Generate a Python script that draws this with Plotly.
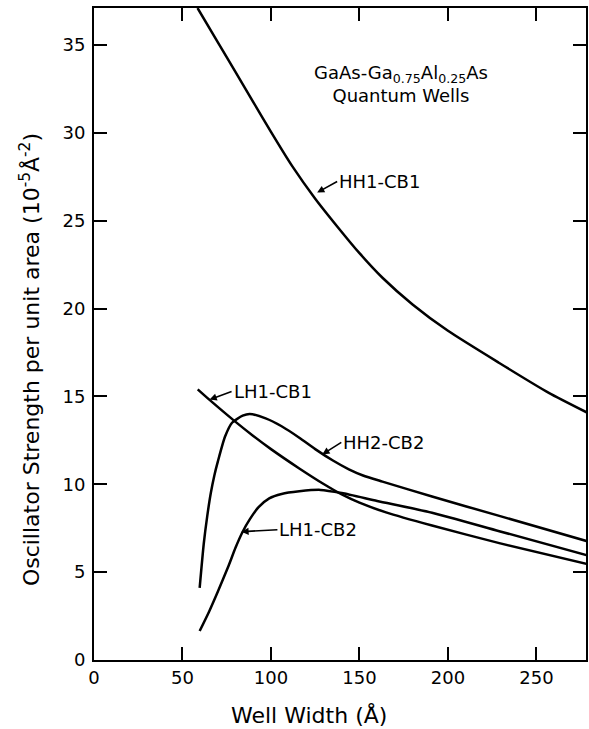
import plotly.graph_objects as go

# ---- data ----
hh1_x = [58.5, 70, 80, 90, 100, 112, 125, 138, 150, 163, 180, 200, 229, 257, 279]
hh1_y = [37.1, 35.15, 33.45, 31.75, 30.05, 28.1, 26.25, 24.6, 23.15, 21.75, 20.23, 18.73, 16.9, 15.2, 14.06]

lh1cb1_x = [58.6, 65.3, 80, 90, 100, 116, 130, 140, 150, 165, 191, 229, 279]
lh1cb1_y = [15.4, 14.8, 13.55, 12.75, 12.0, 10.9, 10.0, 9.42, 8.95, 8.4, 7.65, 6.65, 5.45]

hh2_x = [59.7, 62, 64, 66, 68, 70, 74, 78, 84, 88, 97, 106, 116, 125, 135, 144, 152, 163, 191, 229, 279]
hh2_y = [4.1, 6.6, 8.2, 9.5, 10.5, 11.3, 12.7, 13.5, 13.9, 14.0, 13.75, 13.3, 12.65, 12.0, 11.35, 10.85, 10.5, 10.15, 9.3, 8.2, 6.75]

lh1cb2_x = [59.7, 65, 70, 76, 80, 84, 88, 93, 99, 106, 116, 128, 140, 160, 191, 229, 279]
lh1cb2_y = [1.65, 2.75, 3.9, 5.35, 6.4, 7.3, 8.0, 8.7, 9.2, 9.45, 9.6, 9.68, 9.5, 9.05, 8.38, 7.33, 5.95]

x_ticks = [0, 50, 100, 150, 200, 250]
y_ticks = [0, 5, 10, 15, 20, 25, 30, 35]

FONT = "DejaVu Sans"

fig = go.Figure()
for xs, ys in [(hh1_x, hh1_y), (lh1cb1_x, lh1cb1_y), (hh2_x, hh2_y), (lh1cb2_x, lh1cb2_y)]:
    fig.add_trace(go.Scatter(x=xs, y=ys, mode="lines",
                             line=dict(color="black", width=2.5, shape="spline", smoothing=0.6),
                             showlegend=False, hoverinfo="skip"))

axis_common = dict(showline=True, mirror="ticks", linecolor="black", linewidth=2,
                   ticks="inside", ticklen=13, tickwidth=2, tickcolor="black",
                   showgrid=False, zeroline=False,
                   tickfont=dict(family=FONT, size=18, color="black"))

fig.update_xaxes(range=[0, 278], tickvals=x_ticks, **axis_common)
fig.update_yaxes(range=[0, 37.1], tickvals=y_ticks, ticklabelstandoff=3, **axis_common)

labels = [
    ("HH1-CB1", 126.1, 26.6, 20, -11),
    ("LH1-CB1", 65.3, 14.82, 22, -8),
    ("HH2-CB2", 129.0, 11.7, 19, -12),
    ("LH1-CB2", 83.3, 7.3, 36, -2),
]
for txt, x, y, ax, ay in labels:
    fig.add_annotation(x=x, y=y, text=txt, showarrow=True, ax=ax, ay=ay,
                       xanchor="left", yanchor="middle",
                       arrowhead=2, arrowsize=0.9, arrowwidth=1.6, arrowcolor="black",
                       font=dict(family=FONT, size=18, color="black"))

fig.add_annotation(xref="paper", yref="paper", x=0.624, y=0.884,
                   text="GaAs-Ga<sub>0.75</sub>Al<sub>0.25</sub>As<br>Quantum Wells",
                   showarrow=False, xanchor="center", yanchor="middle",
                   font=dict(family=FONT, size=18, color="black"))

fig.add_annotation(xref="paper", yref="paper", x=0.437, y=-0.084,
                   text="Well Width (Å)", showarrow=False,
                   xanchor="center", yanchor="middle",
                   font=dict(family=FONT, size=22, color="black"))

fig.add_annotation(xref="paper", yref="paper", x=-0.13, y=0.46,
                   text="Oscillator Strength per unit area (10<sup>-5</sup>Å<sup>-2</sup>)",
                   showarrow=False, textangle=-90,
                   xanchor="center", yanchor="middle",
                   font=dict(family=FONT, size=22, color="black"))

fig.update_layout(width=589, height=729,
                  margin=dict(l=94, r=1, t=8, b=69),
                  paper_bgcolor="white", plot_bgcolor="white")

fig.write_html("out.html")
